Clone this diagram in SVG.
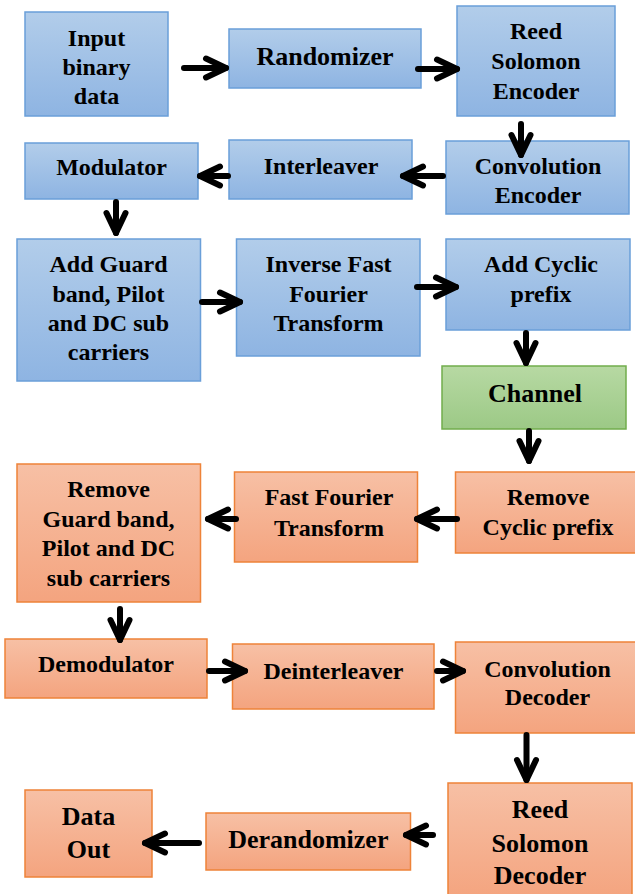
<svg xmlns="http://www.w3.org/2000/svg" width="635" height="894" viewBox="0 0 635 894">
<style>
  text { font-family: "Liberation Serif", "Times New Roman", serif; font-weight: bold; font-size: 24px; fill: #000; text-anchor: middle; }
  .big { font-size: 26px; }
  .blue { fill: url(#gBlue); stroke: #6a9fd9; stroke-width: 1.5; }
  .green { fill: url(#gGreen); stroke: #72ad4c; stroke-width: 1.5; }
  .orange { fill: url(#gOrange); stroke: #ee8339; stroke-width: 1.5; }
  .conn path { fill: none; stroke: #000; stroke-width: 6; stroke-linecap: round; stroke-linejoin: round; marker-end: url(#arr); }
</style>
<defs>
  <linearGradient id="gBlue" x1="0" y1="0" x2="0" y2="1">
    <stop offset="0" stop-color="#b2cdea"/>
    <stop offset="1" stop-color="#8eb4e2"/>
  </linearGradient>
  <linearGradient id="gGreen" x1="0" y1="0" x2="0" y2="1">
    <stop offset="0" stop-color="#b7d9a3"/>
    <stop offset="1" stop-color="#9cc986"/>
  </linearGradient>
  <linearGradient id="gOrange" x1="0" y1="0" x2="0" y2="1">
    <stop offset="0" stop-color="#f7c0a5"/>
    <stop offset="1" stop-color="#f4a47f"/>
  </linearGradient>
  <marker id="arr" markerUnits="userSpaceOnUse" markerWidth="30" markerHeight="30" refX="22" refY="15" orient="auto" overflow="visible">
    <path d="M2,5.5 L22,15 L2,24.5" fill="none" stroke="#000" stroke-width="6" stroke-linecap="round" stroke-linejoin="round"/>
  </marker>
</defs>

<g id="input">
  <rect class="blue" x="25" y="12" width="143" height="104"/>
  <text x="96.5" y="45.5">Input</text>
  <text x="96.5" y="74.5">binary</text>
  <text x="96.5" y="103.5">data</text>
</g>
<g id="randomizer">
  <rect class="blue" x="229" y="29" width="192" height="59"/>
  <text class="big" x="325" y="65">Randomizer</text>
</g>
<g id="rs-encoder">
  <rect class="blue" x="457" y="6" width="158" height="110"/>
  <text x="536" y="39">Reed</text>
  <text x="536" y="69">Solomon</text>
  <text x="536" y="99">Encoder</text>
</g>
<g id="conv-encoder">
  <rect class="blue" x="446" y="141" width="183" height="73"/>
  <text x="538" y="173.5">Convolution</text>
  <text x="538" y="202.5">Encoder</text>
</g>
<g id="interleaver">
  <rect class="blue" x="229" y="140" width="183" height="59"/>
  <text x="321" y="174">Interleaver</text>
</g>
<g id="modulator">
  <rect class="blue" x="25" y="143" width="173" height="56"/>
  <text x="111.5" y="175">Modulator</text>
</g>
<g id="add-guard">
  <rect class="blue" x="17" y="239" width="183.5" height="142"/>
  <text x="108.5" y="272">Add Guard</text>
  <text x="108.5" y="301.5">band, Pilot</text>
  <text x="108.5" y="331">and DC sub</text>
  <text x="108.5" y="360">carriers</text>
</g>
<g id="ifft">
  <rect class="blue" x="236.5" y="239" width="183.5" height="117"/>
  <text x="328.5" y="272">Inverse Fast</text>
  <text x="328.5" y="301.5">Fourier</text>
  <text x="328.5" y="331">Transform</text>
</g>
<g id="add-cp">
  <rect class="blue" x="446" y="239" width="184" height="91"/>
  <text x="541" y="272">Add Cyclic</text>
  <text x="541" y="301.5">prefix</text>
</g>
<g id="channel">
  <rect class="green" x="442" y="366" width="184" height="63"/>
  <text class="big" x="535" y="401.5">Channel</text>
</g>
<g id="remove-cp">
  <rect class="orange" x="455.5" y="472" width="182" height="81"/>
  <text x="548" y="505">Remove</text>
  <text x="548" y="535">Cyclic prefix</text>
</g>
<g id="fft">
  <rect class="orange" x="234.5" y="472" width="183" height="90"/>
  <text x="329" y="505">Fast Fourier</text>
  <text x="329" y="535.5">Transform</text>
</g>
<g id="remove-guard">
  <rect class="orange" x="17" y="464" width="183.5" height="138"/>
  <text x="108.5" y="496.5">Remove</text>
  <text x="108.5" y="527">Guard band,</text>
  <text x="108.5" y="556">Pilot and DC</text>
  <text x="108.5" y="586">sub carriers</text>
</g>
<g id="demodulator">
  <rect class="orange" x="5" y="639" width="202" height="59"/>
  <text x="106" y="671.5">Demodulator</text>
</g>
<g id="deinterleaver">
  <rect class="orange" x="232.5" y="644" width="201.5" height="65"/>
  <text x="333.5" y="678.5">Deinterleaver</text>
</g>
<g id="conv-decoder">
  <rect class="orange" x="455.5" y="642" width="182" height="91"/>
  <text x="547.5" y="676.5">Convolution</text>
  <text x="547.5" y="705">Decoder</text>
</g>
<g id="rs-decoder">
  <rect class="orange" x="448" y="783" width="184" height="115"/>
  <text class="big" x="540" y="818">Reed</text>
  <text class="big" x="540" y="851.5">Solomon</text>
  <text class="big" x="540" y="884">Decoder</text>
</g>
<g id="derandomizer">
  <rect class="orange" x="206" y="813" width="204.5" height="57"/>
  <text class="big" x="308.3" y="848">Derandomizer</text>
</g>
<g id="data-out">
  <rect class="orange" x="25" y="790" width="127" height="87"/>
  <text class="big" x="88.5" y="825">Data</text>
  <text class="big" x="88.5" y="858">Out</text>
</g>

<g id="connectors" class="conn">
  <path d="M184,68 H226"/>
  <path d="M418,69 H457"/>
  <path d="M521,124 V155"/>
  <path d="M443,176 H403"/>
  <path d="M228,176 H200"/>
  <path d="M116,202 V233"/>
  <path d="M202,302 H240"/>
  <path d="M417,287 H456"/>
  <path d="M526,333 V363"/>
  <path d="M529,431 V461"/>
  <path d="M457,519 H417"/>
  <path d="M236,519 H208"/>
  <path d="M120,609 V640"/>
  <path d="M209,671 H245"/>
  <path d="M437,671 H463"/>
  <path d="M526.5,735 V780"/>
  <path d="M433,835 H406"/>
  <path d="M199,843 H145"/>
</g>
</svg>
